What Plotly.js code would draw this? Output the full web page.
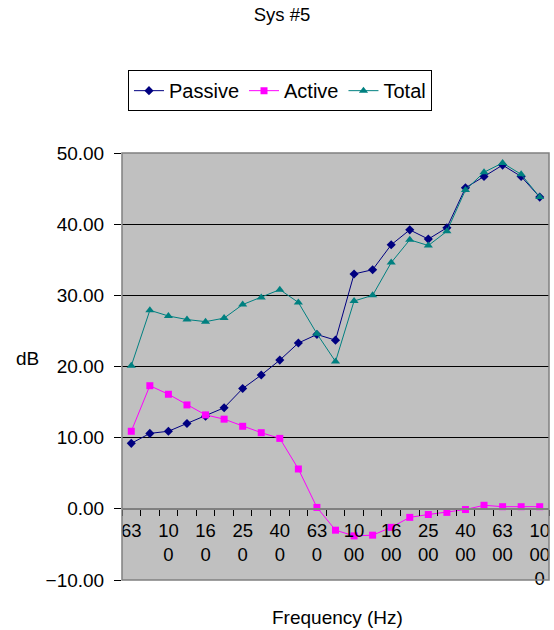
<!DOCTYPE html>
<html>
<head>
<meta charset="utf-8">
<script src="https://cdn.plot.ly/plotly-3.0.1.min.js"></script>
<style>html,body{margin:0;padding:0;background:#fff;}</style>
</head>
<body>
<div id="chart" style="width:554px;height:630px;"></div>
<script>
// 1/3-octave band centre frequencies (Hz)
const categories = ['63','80','100','125','160','200','250','315','400','500','630','800',
  '1000','1250','1600','2000','2500','3150','4000','5000','6300','8000','10000'];
// Wrapped tick labels as drawn in the reference (narrow category slots)
const wrappedLabels = ['63','80','10<br>0','125','16<br>0','200','25<br>0','315','40<br>0','500','63<br>0','800',
  '10<br>00','1250','16<br>00','2000','25<br>00','3150','40<br>00','5000','63<br>00','8000','10<br>00<br>0'];

const passive = [9.2, 10.6, 10.9, 12.0, 13.0, 14.2, 16.9, 18.8, 20.9, 23.3, 24.5, 23.7,
  33.0, 33.6, 37.1, 39.2, 37.9, 39.5, 45.1, 46.7, 48.3, 46.7, 43.8];
const active = [10.9, 17.3, 16.1, 14.6, 13.2, 12.6, 11.6, 10.7, 9.9, 5.6, 0.2, -3.0,
  -3.8, -3.7, -2.6, -1.2, -0.8, -0.5, -0.1, 0.5, 0.3, 0.3, 0.3];
const total = [20.1, 27.9, 27.1, 26.6, 26.3, 26.8, 28.7, 29.7, 30.8, 29.0, 24.6, 20.7,
  29.2, 30.0, 34.6, 37.8, 37.0, 39.0, 44.8, 47.3, 48.6, 47.0, 43.8];

const FONT = 'Liberation Sans, Arial, sans-serif';
const alias = {};
categories.forEach((c, i) => { alias[c] = wrappedLabels[i]; });

const traces = [
  {name: 'Passive', x: categories, y: passive, type: 'scatter', mode: 'lines+markers',
   line: {color: '#000080', width: 1}, marker: {symbol: 'diamond', size: 7, color: '#000080'}},
  {name: 'Active', x: categories, y: active, type: 'scatter', mode: 'lines+markers',
   line: {color: '#FF00FF', width: 1}, marker: {symbol: 'square', size: 7, color: '#FF00FF'}},
  {name: 'Total', x: categories, y: total, type: 'scatter', mode: 'lines+markers',
   line: {color: '#008080', width: 1}, marker: {symbol: 'triangle-up', size: 8, color: '#008080'}}
];

const layout = {
  width: 554, height: 630,
  margin: {l: 122, r: 5, t: 153, b: 50},
  paper_bgcolor: '#FFFFFF',
  plot_bgcolor: '#C0C0C0',
  font: {family: FONT, size: 19, color: '#000'},
  title: {text: 'Sys #5', font: {family: FONT, size: 18.5, color: '#000'},
          x: 0.509, xref: 'container', xanchor: 'center', y: 1 - 15/630, yref: 'container', yanchor: 'middle'},
  showlegend: true,
  legend: {orientation: 'h', x: 0.014, xanchor: 'left', y: 1.194, yanchor: 'top',
           bgcolor: '#FFFFFF', bordercolor: '#000000', borderwidth: 1,
           font: {family: FONT, size: 20, color: '#000'}, itemwidth: 30, tracegroupgap: 0},
  xaxis: {
    type: 'category', range: [-0.5, categories.length - 0.5],
    anchor: 'free', position: 10/60,
    showline: true, linecolor: '#808080', linewidth: 2,
    showgrid: false, zeroline: false,
    tickmode: 'linear', tick0: 0, dtick: 1,
    ticks: 'outside', tickson: 'boundaries', ticklen: 6, tickcolor: '#000', tickwidth: 1,
    ticklabelstep: 2, labelalias: alias, ticklabelstandoff: 5,
    tickangle: 0, ticklabeloverflow: 'allow',
    tickfont: {family: FONT, size: 18.5, color: '#000'}
  },
  yaxis: {
    range: [-10, 50], dtick: 10, tick0: 0, tickformat: '.2f',
    showgrid: true, gridcolor: '#000000', gridwidth: 1,
    zeroline: false, showline: false,
    ticks: 'outside', ticklen: 7, tickcolor: '#000', tickwidth: 1,
    ticklabelstandoff: 6,
    tickfont: {family: FONT, size: 19, color: '#000'}
  },
  shapes: [
    {type: 'rect', xref: 'paper', yref: 'paper', x0: 0, x1: 1, y0: 0, y1: 1,
     line: {color: '#808080', width: 1.5}, layer: 'above'}
  ],
  annotations: [
    {text: 'dB', xref: 'paper', yref: 'paper', x: (27 - 122)/427, y: (580 - 358)/427,
     xanchor: 'center', yanchor: 'middle', showarrow: false, font: {family: FONT, size: 19, color: '#000'}},
    {text: 'Frequency (Hz)', xref: 'paper', yref: 'paper', x: (337.5 - 122)/427, y: (580 - 617)/427,
     xanchor: 'center', yanchor: 'middle', showarrow: false, font: {family: FONT, size: 19, color: '#000'}}
  ]
};

Plotly.newPlot('chart', traces, layout, {displayModeBar: false, staticPlot: true});
</script>
</body>
</html>
